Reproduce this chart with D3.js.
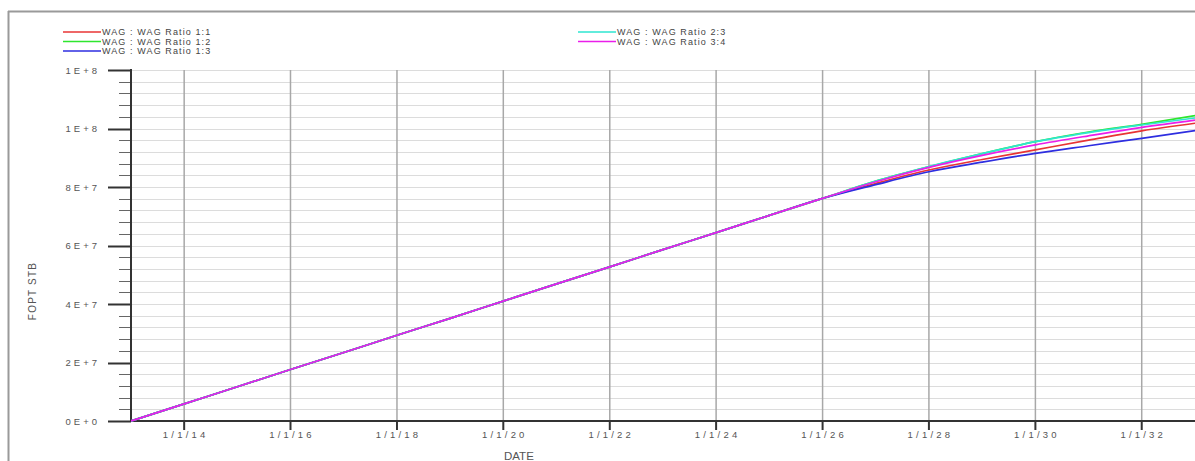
<!DOCTYPE html>
<html>
<head>
<meta charset="utf-8">
<script src="https://cdn.jsdelivr.net/npm/d3@7"></script>
<style>
  html, body { margin: 0; padding: 0; background: #fff; }
  svg { display: block; font-family: "Liberation Sans", Arial, sans-serif; }
</style>
</head>
<body>
<svg id="chart" width="1195" height="461"></svg>
<script>
/*jshint esversion: 6 */

///////////////////////////////
/// Data
///////////////////////////////

let years = [2013, 2014, 2015, 2016, 2017, 2018, 2019, 2020, 2021, 2022, 2023,
             2024, 2025, 2026, 2027, 2028, 2029, 2030, 2031, 2032, 2033];

let ratio11 = [0, 5.86e6, 1.17e7, 1.76e7, 2.34e7, 2.93e7, 3.51e7, 4.10e7, 4.69e7, 5.27e7, 5.86e7,
               6.44e7, 7.03e7, 7.61e7, 8.12e7, 8.58e7, 8.94e7, 9.27e7, 9.60e7, 9.92e7, 1.018e8];
let ratio12 = [0, 5.86e6, 1.17e7, 1.76e7, 2.34e7, 2.93e7, 3.51e7, 4.10e7, 4.69e7, 5.27e7, 5.86e7,
               6.44e7, 7.03e7, 7.61e7, 8.20e7, 8.69e7, 9.14e7, 9.55e7, 9.88e7, 1.0144e8, 1.044e8];
let ratio13 = [0, 5.86e6, 1.17e7, 1.76e7, 2.34e7, 2.93e7, 3.51e7, 4.10e7, 4.69e7, 5.27e7, 5.86e7,
               6.44e7, 7.03e7, 7.61e7, 8.08e7, 8.52e7, 8.85e7, 9.15e7, 9.41e7, 9.665e7, 9.925e7];
let ratio23 = [0, 5.86e6, 1.17e7, 1.76e7, 2.34e7, 2.93e7, 3.51e7, 4.10e7, 4.69e7, 5.27e7, 5.86e7,
               6.44e7, 7.03e7, 7.61e7, 8.20e7, 8.70e7, 9.14e7, 9.55e7, 9.86e7, 1.012e8, 1.036e8];
let ratio34 = [0, 5.86e6, 1.17e7, 1.76e7, 2.34e7, 2.93e7, 3.51e7, 4.10e7, 4.69e7, 5.27e7, 5.86e7,
               6.44e7, 7.03e7, 7.61e7, 8.18e7, 8.67e7, 9.08e7, 9.44e7, 9.75e7, 1.004e8, 1.029e8];

let seriesNames = ["WAG : WAG Ratio 1:1", "WAG : WAG Ratio 1:2", "WAG : WAG Ratio 1:3",
                   "WAG : WAG Ratio 2:3", "WAG : WAG Ratio 3:4"];
let seriesColours = ["#e83434", "#2ee62e", "#2e2ee0", "#2ee6d0", "#ea1eea"];

let yTickValues = [0, 2e7, 4e7, 6e7, 8e7, 1e8, 1.2e8];
let yTickLabels = ["0E+0", "2E+7", "4E+7", "6E+7", "8E+7", "1E+8", "1E+8"];
let xTickYears = [2014, 2016, 2018, 2020, 2022, 2024, 2026, 2028, 2030, 2032];
let xTickLabels = ["1/1/14", "1/1/16", "1/1/18", "1/1/20", "1/1/22", "1/1/24",
                   "1/1/26", "1/1/28", "1/1/30", "1/1/32"];

///////////////////////////////
/// Setup
///////////////////////////////

let svg = d3.select("#chart");
let plotLeft = 131, plotTop = 70, plotBottom = 421;

let x = d3.scaleTime()
    .domain([new Date(2013, 0, 1), new Date(2034, 0, 1)])
    .range([plotLeft, plotLeft + 21 * 53.2]);

let y = d3.scaleLinear()
    .domain([0, 1.2e8])
    .range([plotBottom, plotTop]);

// outer frame (top and left edges only are visible)
svg.append("line").attr("x1", 8).attr("x2", 1195).attr("y1", 11.5).attr("y2", 11.5)
    .attr("stroke", "#9a9a9a").attr("stroke-width", 2);
svg.append("line").attr("x1", 8.5).attr("x2", 8.5).attr("y1", 11).attr("y2", 461)
    .attr("stroke", "#9a9a9a").attr("stroke-width", 2);

///////////////////////////////
/// Grid
///////////////////////////////

let minorY = d3.range(0, 1.2e8 + 1, 4e6);

svg.append("g").selectAll("line")
    .data(minorY)
    .enter().append("line")
    .attr("x1", plotLeft).attr("x2", 1195)
    .attr("y1", d => Math.round(y(d)) + 0.5)
    .attr("y2", d => Math.round(y(d)) + 0.5)
    .attr("stroke", "#dcdcdc").attr("stroke-width", 1);

svg.append("g").selectAll("line")
    .data(xTickYears)
    .enter().append("line")
    .attr("x1", d => x(new Date(d, 0, 1)))
    .attr("x2", d => x(new Date(d, 0, 1)))
    .attr("y1", plotTop).attr("y2", plotBottom)
    .attr("stroke", "#a8a8a8").attr("stroke-width", 1.5);

///////////////////////////////
/// Axes
///////////////////////////////

// y axis: long major ticks, short minor ticks
svg.append("g").selectAll("line")
    .data(minorY)
    .enter().append("line")
    .attr("x1", d => yTickValues.indexOf(d) >= 0 ? 108 : 119)
    .attr("x2", plotLeft)
    .attr("y1", d => Math.round(y(d)) + 0.5)
    .attr("y2", d => Math.round(y(d)) + 0.5)
    .attr("stroke", d => yTickValues.indexOf(d) >= 0 ? "#333" : "#666")
    .attr("stroke-width", d => yTickValues.indexOf(d) >= 0 ? 2 : 1);

svg.append("line").attr("x1", plotLeft).attr("x2", plotLeft).attr("y1", plotTop - 1).attr("y2", plotBottom + 1)
    .attr("stroke", "#333").attr("stroke-width", 2);

svg.append("g").selectAll("text")
    .data(yTickValues)
    .enter().append("text")
    .attr("x", 100)
    .attr("y", d => y(d) + 3.5)
    .attr("text-anchor", "end")
    .attr("font-size", 9.5)
    .attr("letter-spacing", 3)
    .attr("fill", "#555")
    .text((d, i) => yTickLabels[i]);

// x axis
svg.append("line").attr("x1", plotLeft).attr("x2", 1195).attr("y1", plotBottom).attr("y2", plotBottom)
    .attr("stroke", "#333").attr("stroke-width", 2);

svg.append("g").selectAll("line")
    .data(xTickYears)
    .enter().append("line")
    .attr("x1", d => x(new Date(d, 0, 1)))
    .attr("x2", d => x(new Date(d, 0, 1)))
    .attr("y1", plotBottom).attr("y2", plotBottom + 9)
    .attr("stroke", "#333").attr("stroke-width", 2);

svg.append("g").selectAll("text")
    .data(xTickYears)
    .enter().append("text")
    .attr("x", d => x(new Date(d, 0, 1)) + 1.5)
    .attr("y", plotBottom + 17)
    .attr("text-anchor", "middle")
    .attr("font-size", 9.5)
    .attr("letter-spacing", 3.2)
    .attr("fill", "#555")
    .text((d, i) => xTickLabels[i]);

svg.append("text")
    .attr("x", 504).attr("y", 460)
    .attr("font-size", 11.5)
    .attr("fill", "#555")
    .text("DATE");

svg.append("text")
    .attr("transform", "translate(36,291) rotate(-90)")
    .attr("text-anchor", "middle")
    .attr("font-size", 10)
    .attr("letter-spacing", 1.2)
    .attr("fill", "#555")
    .text("FOPT STB");

///////////////////////////////
/// Lines
///////////////////////////////

let allSeries = [ratio11, ratio12, ratio13, ratio23, ratio34];

let line = d3.line()
    .x((d, i) => x(new Date(years[i], 0, 1)))
    .y(d => y(d))
    .curve(d3.curveMonotoneX);

let plot = svg.append("g");
plot.append("clipPath").attr("id", "clip")
    .append("rect").attr("x", plotLeft).attr("y", 0).attr("width", 1195 - plotLeft).attr("height", plotBottom + 2);

plot.selectAll("path")
    .data(allSeries)
    .enter().append("path")
    .attr("clip-path", "url(#clip)")
    .attr("d", line)
    .attr("fill", "none")
    .attr("stroke", (d, i) => seriesColours[i])
    .attr("stroke-width", 1.7);

///////////////////////////////
/// Legend
///////////////////////////////

let legendPos = [[63, 32], [63, 41.5], [63, 51], [578, 32], [578, 41.5]];

let legend = svg.append("g").selectAll("g")
    .data(seriesNames)
    .enter().append("g")
    .attr("transform", (d, i) => "translate(" + legendPos[i][0] + "," + legendPos[i][1] + ")");

legend.append("line")
    .attr("x1", 0).attr("x2", 38)
    .attr("stroke", (d, i) => seriesColours[i])
    .attr("stroke-width", 1.7);

legend.append("text")
    .attr("x", 39).attr("y", 3)
    .attr("font-size", 9)
    .attr("letter-spacing", 1.1)
    .attr("fill", "#444")
    .text(d => d);
</script>
</body>
</html>
